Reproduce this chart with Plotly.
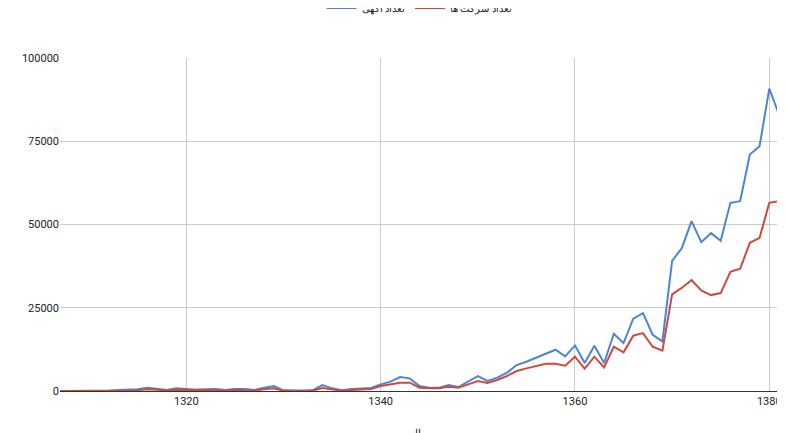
import plotly.graph_objects as go

years = list(range(1307, 1382))
ads = [0, 0, 0, 0, 100, 100, 300, 300, 500, 1000, 700, 300, 800, 500, 400, 500, 600, 300, 600, 600,
       300, 1000, 1500, 200, 100, 100, 200, 1800, 800, 200, 600, 800, 900, 2000, 2800, 4200, 3800, 1500,
       1000, 1000, 1800, 1200, 2800, 4500, 3000, 4000, 5500, 7800, 8800, 10000, 11400, 12400, 10400, 13700,
       8400, 13600, 8400, 17200, 14400, 21700, 23400, 16900, 14900, 39100, 42900, 51000, 44700, 47400,
       45100, 56500, 57000, 71000, 73500, 90800, 83000]
companies = [0, 0, 0, 0, 50, 50, 150, 150, 250, 500, 400, 150, 400, 300, 200, 300, 300, 150, 300, 300,
             150, 500, 800, 100, 50, 50, 100, 900, 400, 100, 300, 500, 600, 1500, 2000, 2500, 2500, 1000,
             800, 800, 1300, 1000, 2000, 3000, 2400, 3300, 4500, 6000, 6800, 7500, 8200, 8200, 7600, 10300,
             6700, 10300, 7100, 13300, 11600, 16600, 17400, 13300, 12100, 29000, 31000, 33300, 30200, 28800,
             29400, 35800, 36700, 44500, 46000, 56500, 57000]

fig = go.Figure()
fig.add_trace(go.Scatter(x=years, y=ads, mode="lines", name="تعداد آگهی",
                         line=dict(color="#4a86d1", width=2)))
fig.add_trace(go.Scatter(x=years, y=companies, mode="lines", name="تعداد شرکت ها",
                         line=dict(color="#cc4a3e", width=2)))
fig.update_layout(
    width=785, height=433, margin=dict(l=52, r=14, t=50, b=50, autoexpand=False),
    paper_bgcolor="white", plot_bgcolor="white",
    font=dict(family="Roboto, Arial", size=11, color="#222"),
    legend=dict(orientation="h", x=0.5, xanchor="center", y=1.15, yanchor="middle",
                font=dict(size=10, color="#222")),
    xaxis=dict(range=[1307, 1381], tickvals=[1320, 1340, 1360, 1380], showgrid=True, automargin=False,
               gridcolor="#cccccc", zeroline=False, showline=True, linecolor="#333",
               title=dict(text="سال", font=dict(size=11), standoff=22), ticks=""),
    yaxis=dict(range=[0, 100000], tickvals=[0, 25000, 50000, 75000, 100000], automargin=False,
               ticktext=["0", "25000", "50000", "75000", "100000"], showgrid=True,
               gridcolor="#cccccc", zeroline=False, ticks=""),
)
fig.write_html("out.html")
